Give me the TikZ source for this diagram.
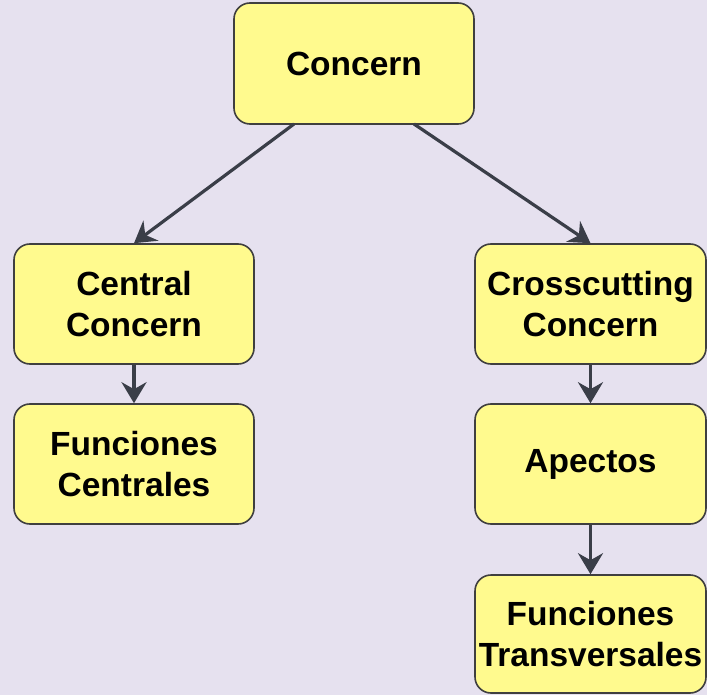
\documentclass[tikz,border=0pt]{standalone}
\usepackage{fontspec}
\setmainfont{Liberation Sans}
\usetikzlibrary{arrows.meta}
\definecolor{bgc}{HTML}{E6E1EF}
\definecolor{boxfill}{HTML}{FFFA8E}
\definecolor{boxline}{HTML}{3F3F3F}
\definecolor{arrc}{HTML}{3A3E48}
\begin{document}
\begin{tikzpicture}[x=1pt,y=-1pt,
  box/.style={draw=boxline,fill=boxfill,line width=1.6pt,rounded corners=16pt,
    inner sep=0pt,align=center,font=\fontsize{33.5}{41}\selectfont\bfseries},
  conn/.style={draw=arrc,line width=3.2pt,-{Stealth[length=21pt,width=25pt,inset=7pt]}}]
\fill[bgc] (0,0) rectangle (707,695);
\useasboundingbox (0,0) rectangle (707,695);
\node[box,minimum width=240pt,minimum height=121pt] (c) at (354,63.5) {Concern};
\node[box,minimum width=240pt,minimum height=120pt] (cc) at (134,304) {Central\\Concern};
\node[box,minimum width=240pt,minimum height=120pt] (fc) at (134,464) {Funciones\\Centrales};
\node[box,minimum width=231pt,minimum height=120pt] (xc) at (590.5,304) {Crosscutting\\Concern};
\node[box,minimum width=231pt,minimum height=120pt] (ap) at (590.5,464) {Apectos};
\node[box,minimum width=231pt,minimum height=118pt] (ft) at (590.5,634) {Funciones\\Transversales};
\coordinate (c1) at (294,124);
\coordinate (c2) at (414,124);
\draw[conn] (c1) -- (cc.north);
\draw[conn] (c2) -- (xc.north);
\draw[conn] (cc) -- (fc);
\draw[conn] (xc) -- (ap);
\draw[conn] (ap) -- (ft);
\end{tikzpicture}
\end{document}
